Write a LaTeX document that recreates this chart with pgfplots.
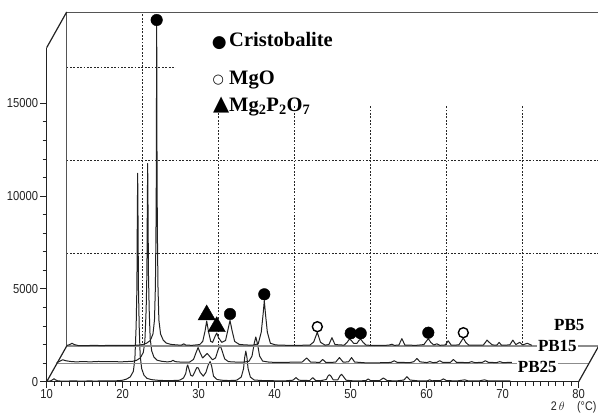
\documentclass[border=0pt]{standalone}
\usepackage{fontspec}
\setmainfont{Liberation Serif}
\newfontfamily\ticksf[FakeStretch=0.86]{Liberation Sans}
\newfontfamily\symf{DejaVu Sans}
\usepackage{pgfplots}
\usepackage{pgfplotstable}
\pgfplotsset{compat=1.18}
\definecolor{ink}{HTML}{222222}
\definecolor{framec}{HTML}{555555}
\definecolor{floorc}{HTML}{8C8C8C}

% front sample, 2theta (deg) / intensity (counts)
\pgfplotstableread{
tt I
10.0 20
10.5 40
10.8 110
10.96 160
11.15 100
11.5 40
12.5 30
13.5 45
14.5 30
15.5 40
16.5 35
17.5 45
18.5 40
19.5 55
20.0 80
20.5 140
21.0 260
21.4 560
21.6 1200
21.77 3000
21.87 5100
21.92 8600
21.97 11230
22.02 8600
22.07 5100
22.17 3000
22.3 1400
22.5 700
22.8 350
23.2 180
23.8 110
24.5 80
25.5 60
26.5 60
27.5 80
28.0 200
28.3 450
28.45 800
28.55 900
28.7 700
28.95 350
29.2 300
29.45 500
29.75 760
29.95 740
30.2 500
30.6 300
30.95 500
31.25 900
31.5 1080
31.7 850
31.95 300
32.4 120
33.0 80
34.0 60
35.0 80
35.6 250
35.9 700
36.05 1300
36.2 1650
36.35 1300
36.5 700
36.8 250
37.3 90
38.5 60
40.0 50
41.5 50
42.4 80
42.8 220
43.2 80
44.6 60
45.0 220
45.4 60
46.0 50
46.8 120
47.0 300
47.2 380
47.4 300
47.7 100
48.3 100
48.6 320
48.8 400
49.0 300
49.4 80
50.5 40
51.5 50
52.0 60
52.3 150
52.6 60
53.8 60
54.3 200
54.8 60
56.0 40
57.0 90
57.4 270
57.8 90
59.0 40
60.1 50
60.4 100
60.7 50
61.8 60
62.2 150
62.6 60
64.0 40
65.0 100
65.5 40
67.0 50
67.6 100
68.1 40
69.5 50
71.0 40
}\pbtwentyfive

\pgfplotstableread{
tt I
10.0 40
10.4 120
10.8 200
11.2 150
11.8 110
12.5 90
13.5 100
14.5 90
15.5 110
16.5 95
17.5 100
18.5 90
19.5 110
20.0 120
20.5 170
21.0 300
21.4 600
21.6 1200
21.77 2900
21.87 4900
21.92 8200
21.97 10775
22.02 8200
22.07 4900
22.17 2900
22.3 1350
22.5 680
22.8 340
23.2 180
23.8 120
24.5 90
25.0 100
25.3 170
25.6 100
26.5 70
27.5 80
28.0 220
28.35 600
28.6 860
28.85 600
29.2 300
29.5 420
29.8 540
30.1 400
30.5 200
30.9 300
31.25 750
31.5 990
31.75 700
32.1 250
32.6 100
33.5 80
34.5 70
35.3 120
35.7 400
36.0 1100
36.2 1430
36.4 1100
36.7 400
37.1 130
38.0 70
39.5 60
41.0 70
42.3 80
42.9 300
43.4 80
44.6 60
45.0 220
45.4 60
46.7 70
47.2 320
47.7 70
48.4 90
48.8 320
49.2 80
50.5 40
51.5 30
52.5 40
53.5 50
54.0 60
54.4 150
54.8 60
56.5 50
57.0 100
57.4 270
57.8 90
58.7 50
59.1 100
59.5 50
60.0 60
60.4 150
60.8 60
61.8 60
62.2 220
62.6 60
64.2 50
64.6 100
65.0 50
66.0 60
66.4 150
66.8 60
67.9 50
68.3 100
68.7 50
69.9 60
}\pbfifteen

\pgfplotstableread{
tt I
10.0 30
10.4 80
10.7 150
11.0 80
11.5 30
12.5 20
13.5 40
14.5 25
15.5 35
16.5 30
17.5 40
18.5 35
19.5 50
20.0 80
20.5 150
21.0 300
21.35 650
21.55 1400
21.67 3200
21.74 5800
21.79 9000
21.84 17550
21.89 9000
21.94 5800
22.01 3200
22.13 1400
22.35 650
22.7 320
23.1 160
23.7 90
24.5 60
25.1 50
25.4 120
25.7 50
26.5 40
27.5 80
27.9 250
28.2 800
28.42 1350
28.65 800
28.95 250
29.2 200
29.5 500
29.74 700
29.98 450
30.4 200
30.9 300
31.2 850
31.49 1380
31.75 850
32.1 250
32.7 90
33.5 60
34.5 50
35.2 120
35.6 750
35.85 1750
36.0 2450
36.15 1750
36.4 750
36.8 150
37.5 60
39.0 40
40.5 40
42.0 50
42.5 220
42.97 740
43.4 200
44.0 50
44.5 80
44.9 450
45.3 80
46.5 50
46.9 200
47.2 380
47.45 300
47.75 150
48.2 150
48.45 300
48.68 380
49.0 200
49.4 50
50.5 30
52.0 40
52.5 60
52.8 100
53.1 40
53.7 50
54.1 400
54.5 50
56.0 40
57.0 80
57.3 250
57.58 400
57.9 200
58.3 60
58.7 120
59.1 40
59.8 60
60.2 280
60.6 50
61.6 60
61.9 250
62.18 430
62.5 200
62.9 50
64.8 50
65.1 200
65.3 320
65.6 200
66.0 60
66.6 50
66.9 200
67.2 50
68.3 60
68.7 320
69.1 80
69.6 200
70.0 60
70.6 150
71.2 40
}\pbfive

\begin{document}
\begin{tikzpicture}
\useasboundingbox (-46.7pt,-32.3pt) rectangle (551.3pt,381.7pt);

% back wall with its grid
\begin{axis}[scale only axis, width=532pt, height=334.08pt,
  at={(20pt,35.6pt)}, anchor=south west,
  xmin=10, xmax=80, ymin=0, ymax=18000,
  xtick={20,30,...,70}, ytick={5000,10000,15000},
  xticklabels={}, yticklabels={}, major tick length=0pt,
  scaled ticks=false,
  grid=major, grid style={black!85, line width=0.9pt, dash pattern=on 1.8pt off 1.6pt},
  axis line style={framec, line width=1pt}, clip=false]
\fill[white] (axis cs:24.4,13000) rectangle (axis cs:79.9,17900);
\end{axis}

% front axes
\begin{axis}[scale only axis, width=532pt, height=334.08pt,
  at={(0pt,0pt)}, anchor=south west,
  xmin=10, xmax=80, ymin=0, ymax=18000,
  axis x line=bottom, axis y line=left,
  axis line style={-, ink, line width=1.2pt},
  xtick={10,20,...,80}, ytick={0,5000,10000,15000},
  xticklabels={10,20,30,40,50,60,70,80},
  yticklabels={0,5000,10000,15000},
  minor x tick num=9, minor y tick num=4,
  tick align=outside, major tick length=6.5pt, minor tick length=4pt,
  tick style={ink, line width=0.9pt},
  xticklabel style={font=\ticksf\fontsize{13}{13}\selectfont, text=ink, inner sep=1.5pt},
  yticklabel style={font=\ticksf\fontsize{13}{13}\selectfont, text=ink, inner sep=2pt},
  scaled y ticks=false, clip=false]
\node[anchor=east, inner sep=0pt, font=\ticksf\fontsize{12.5}{12.5}\selectfont, text=ink] at (axis cs:82.35,-1390) {2\,$\theta$\quad(°C)};
\end{axis}

% patterns, offset in depth
\begin{axis}[scale only axis, width=554.8pt, height=371.2pt,
  at={(0pt,0pt)}, anchor=south west,
  xmin=10, xmax=83, ymin=0, ymax=20000, hide axis, clip=false]
\addplot[ink, line width=1pt, line join=round] table[x=tt, y=I] {\pbtwentyfive};
\addplot[floorc, line width=0.9pt] coordinates {(11.316,980) (81.316,980)};
\addplot[ink, line width=1pt, line join=round] table[x expr=\thisrow{tt}+1.316, y expr=\thisrow{I}+980] {\pbfifteen};
\addplot[floorc, line width=1.8pt] coordinates {(12.632,1920) (82.632,1920)};
\addplot[ink, line width=1pt, line join=round] table[x expr=\thisrow{tt}+2.632, y expr=\thisrow{I}+1920] {\pbfive};
% frame diagonals
\addplot[ink, line width=1.2pt] coordinates {(10,18000) (12.632,19920)};
\addplot[ink, line width=1.2pt] coordinates {(10,0) (12.632,1920)};
\addplot[ink, line width=1.2pt] coordinates {(80,0) (82.632,1920)};
% phase markers
\addplot[only marks, mark=*, mark size=5.8pt, black] coordinates {
  (24.47,19488) (34.12,3648) (38.63,4709) (50.0,2608) (51.32,2608) (60.21,2640)};
\addplot[only marks, mark=o, mark size=5pt, black, mark options={line width=1.4pt}] coordinates {
  (45.61,2963) (64.82,2640)};
\addplot[only marks, mark=triangle*, mark size=10pt, black] coordinates {
  (31.05,3594) (32.37,2963)};
% sample labels
\node[anchor=east, font=\bfseries\fontsize{17}{17}\selectfont, inner sep=1pt] at (axis cs:80.9,3055) {PB5};
\node[anchor=east, font=\bfseries\fontsize{17}{17}\selectfont, fill=white, inner sep=1pt] at (axis cs:79.9,1924) {PB15};
\node[anchor=east, font=\bfseries\fontsize{17}{17}\selectfont, fill=white, inner sep=1pt] at (axis cs:77.25,792) {PB25};
% legend
\node[inner sep=0pt, font=\symf\fontsize{17}{17}\selectfont] at (axis cs:32.71,18265) {●};
\node[inner sep=0pt, font=\symf\fontsize{13}{13}\selectfont] at (axis cs:32.58,16256) {○};
\node[inner sep=0pt, font=\symf\fontsize{21}{21}\selectfont] at (axis cs:32.97,14909) {▲};
\node[anchor=base west, inner sep=0pt, font=\bfseries\fontsize{20.5}{20.5}\selectfont] at (axis cs:33.99,18050) {Cristobalite};
\node[anchor=base west, inner sep=0pt, font=\bfseries\fontsize{20.5}{20.5}\selectfont] at (axis cs:33.99,15986) {MgO};
\node[anchor=base west, inner sep=0pt, font=\bfseries\fontsize{20.5}{20.5}\selectfont] at (axis cs:33.99,14548) {Mg\textsubscript{2}P\textsubscript{2}O\textsubscript{7}};
\end{axis}
\end{tikzpicture}
\end{document}
